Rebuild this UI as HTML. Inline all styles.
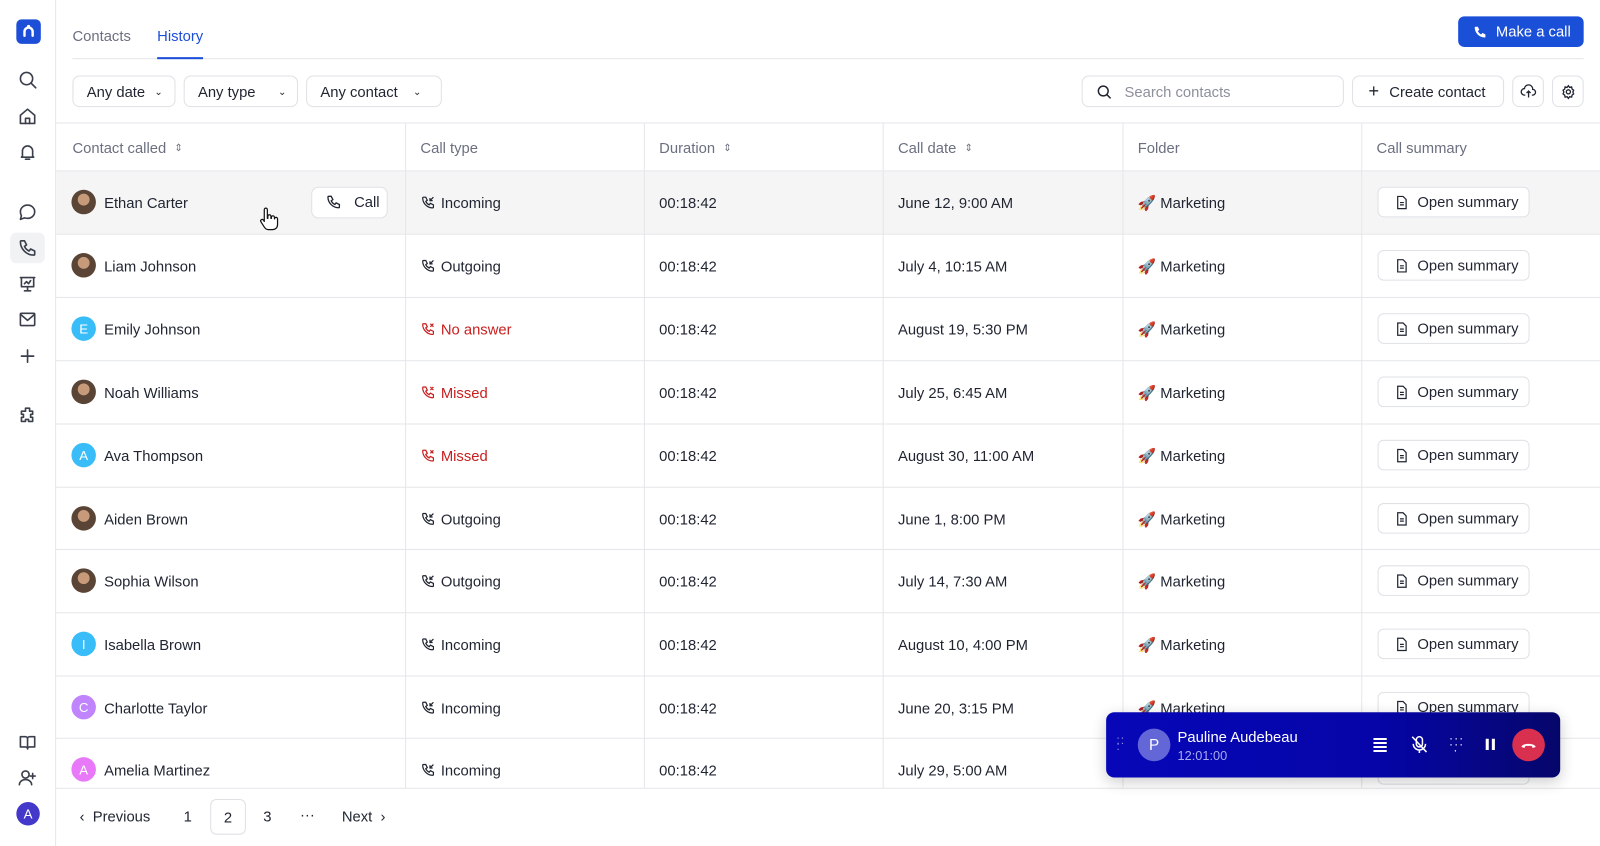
<!DOCTYPE html>
<html><head><meta charset="utf-8"><style>
*{box-sizing:border-box;margin:0;padding:0}
html,body{width:1600px;height:846px;overflow:hidden;background:#fff}
#w{position:absolute;left:0;top:0;width:1568px;height:829px;transform:scale(1.020408);transform-origin:0 0;font-family:"Liberation Sans",sans-serif;color:#1f2430;font-size:14.5px}
.a{position:absolute}
.sb{left:0;top:0;width:55px;height:829px;border-right:1px solid #e6e7ea}
.ic{position:absolute;left:17px;width:20px;height:20px}
.ic svg{width:20px;height:20px;stroke:#3a3f4b;fill:none;stroke-width:1.6;stroke-linecap:round;stroke-linejoin:round}
.btn{position:absolute;border:1px solid #dfe1e5;border-radius:7px;background:#fff;display:flex;align-items:center;font-size:14.5px;color:#1f2430;padding-top:2px}
.hl{position:absolute;left:55px;width:1513px;height:1px;background:#e5e6e9}
.vl{position:absolute;top:120px;width:1px;height:652px;background:#e5e6e9}
.row{position:absolute;left:55px;width:1513px;height:62px}
.c{position:absolute;top:0;height:62px;display:flex;align-items:center;padding-top:3px}
.av{width:24px;height:24px;border-radius:50%;color:#fff;font-size:13px;display:flex;align-items:center;justify-content:center;margin-right:8px;margin-top:-3px}
.ph{background:radial-gradient(circle at 50% 40%,#c79a7a 0 30%,#5a4436 32% 100%)}
.ct svg{width:15px;height:15px;stroke:#1f2430;fill:none;stroke-width:1.6;margin-right:5px;margin-top:-3px}
.red{color:#c81e1e}.red svg{stroke:#c81e1e}
.os{position:absolute;left:1295px;top:16px;width:149px;height:30px;border:1px solid #dfe1e5;border-radius:6px;background:#fff;display:flex;align-items:center;padding-left:15px;padding-top:2px}
.th{position:absolute;top:120px;height:47px;display:flex;align-items:center;color:#6b7080;padding-top:4px}
</style></head><body><div id="w">
<div class="a sb">
 <div class="a" style="left:16px;top:19px;width:24px;height:24px;border-radius:5px;background:#1d4ed8"><svg width="24" height="24"><path d="M8 16v-4a4 4 0 0 1 8 0v4" stroke="#fff" stroke-width="2.4" fill="none" stroke-linecap="round"/><circle cx="12" cy="7" r="1.6" fill="#fff"/></svg></div>
 <div class="ic" style="top:68px"><svg viewBox="0 0 20 20"><circle cx="9" cy="9" r="6"/><path d="M13.5 13.5L18 18"/></svg></div>
 <div class="ic" style="top:104px"><svg viewBox="0 0 20 20"><path d="M3 9l7-6 7 6v8H3z"/><path d="M8 17v-5h4v5"/></svg></div>
 <div class="ic" style="top:139px"><svg viewBox="0 0 20 20"><path d="M5 14V9a5 5 0 0 1 10 0v5l1 1H4z"/><path d="M8 17h4"/></svg></div>
 <div class="ic" style="top:198px"><svg viewBox="0 0 20 20"><path d="M10 3c4 0 7 3 7 6.5S14 16 10 16c-1 0-2-.2-3-.5L3 17l1-3.5C3.3 12.3 3 11 3 9.5 3 6 6 3 10 3z"/></svg></div>
 <div class="a" style="left:10px;top:228px;width:34px;height:30px;border-radius:6px;background:#f1f2f4"></div>
 <div class="ic" style="top:233px"><svg viewBox="0 0 20 20"><path d="M4 3h3l2 4-2 1.5a9 9 0 0 0 4.5 4.5L13 11l4 2v3a1 1 0 0 1-1 1C9 17 3 11 3 4a1 1 0 0 1 1-1z"/></svg></div>
 <div class="ic" style="top:268px"><svg viewBox="0 0 20 20"><path d="M3 4h14M4 4v9h12V4M10 13v4M7 17h6M7 10l2-2 2 2 2-3"/></svg></div>
 <div class="ic" style="top:303px"><svg viewBox="0 0 20 20"><rect x="3" y="4" width="14" height="12" rx="1"/><path d="M3 5l7 6 7-6"/></svg></div>
 <div class="ic" style="top:339px"><svg viewBox="0 0 20 20"><path d="M10 4v12M4 10h12"/></svg></div>
 <div class="ic" style="top:397px"><svg viewBox="0 0 20 20"><path d="M8 3h4v3h3v3h-2v3h2v4h-4v-2H8v2H4v-4h2V9H4V6h4z"/></svg></div>
 <div class="ic" style="top:717px"><svg viewBox="0 0 20 20"><path d="M3 5h5a2 2 0 0 1 2 2v10a2 2 0 0 0-2-2H3zM17 5h-5a2 2 0 0 0-2 2v10a2 2 0 0 1 2-2h5z"/></svg></div>
 <div class="ic" style="top:752px"><svg viewBox="0 0 20 20"><circle cx="8" cy="7" r="3.5"/><path d="M2 17c0-3 3-5 6-5s6 2 6 5M15 6v5M12.5 8.5h5"/></svg></div>
 <div class="a av" style="left:16px;top:789px;background:#4338ca;width:23px;height:23px">A</div>
</div>

<div class="a" style="left:71px;top:28px;color:#6b7080">Contacts</div>
<div class="a" style="left:154px;top:28px;color:#1d4ed8">History</div>
<div class="a" style="left:71px;top:57px;width:1481px;height:1px;background:#e5e6e9"></div>
<div class="a" style="left:154px;top:56px;width:45px;height:2px;background:#1d4ed8"></div>
<div class="a" style="left:1429px;top:16px;width:123px;height:30px;border-radius:6px;background:#1a4fd8;color:#fff;display:flex;align-items:center;padding-left:14px;padding-top:2px"><svg width="15" height="15" viewBox="0 0 20 20" style="margin-right:8px;margin-top:-2px"><path d="M4 3h3l2 4-2 1.5a9 9 0 0 0 4.5 4.5L13 11l4 2v3a1 1 0 0 1-1 1C9 17 3 11 3 4a1 1 0 0 1 1-1z" fill="#fff"/></svg>Make a call</div>

<div class="btn" style="left:71px;top:74px;width:101px;height:31px;padding-left:13px">Any date<span style="margin-left:9px;font-size:10px">&#8964;</span></div>
<div class="btn" style="left:180px;top:74px;width:112px;height:31px;padding-left:13px">Any type<span style="margin-left:22px;font-size:10px">&#8964;</span></div>
<div class="btn" style="left:300px;top:74px;width:133px;height:31px;padding-left:13px">Any contact<span style="margin-left:15px;font-size:10px">&#8964;</span></div>
<div class="btn" style="left:1060px;top:74px;width:257px;height:31px;padding-left:13px;color:#8b909c"><svg width="16" height="16" viewBox="0 0 20 20" style="margin-right:12px;margin-top:-2px"><circle cx="9" cy="9" r="6" stroke="#1f2430" stroke-width="1.8" fill="none"/><path d="M13.5 13.5L18 18" stroke="#1f2430" stroke-width="1.8"/></svg>Search contacts</div>
<div class="btn" style="left:1325px;top:74px;width:149px;height:31px;padding-left:15px"><span style="font-size:18px;margin-right:10px;margin-top:-3px">+</span>Create contact</div>
<div class="btn" style="left:1482px;top:74px;width:31px;height:31px;justify-content:center;padding-top:0"><svg width="16" height="16" viewBox="0 0 20 20" fill="none" stroke="#1f2430" stroke-width="1.6"><path d="M6 14H5a4 4 0 0 1 0-8 5 5 0 0 1 10 1 3.5 3.5 0 0 1 0 7h-1M10 9v8M7.5 11.5L10 9l2.5 2.5"/></svg></div>
<div class="btn" style="left:1521px;top:74px;width:31px;height:31px;justify-content:center;padding-top:0"><svg width="16" height="16" viewBox="0 0 20 20" fill="none" stroke="#1f2430" stroke-width="1.6"><circle cx="10" cy="10" r="2.5"/><path d="M10 2.5l1.5 2 2.5-.5.5 2.5 2 1.5-1 2.2 1 2.3-2 1.5-.5 2.5-2.5-.5-1.5 2-1.5-2-2.5.5-.5-2.5-2-1.5 1-2.3-1-2.2 2-1.5.5-2.5 2.5.5z"/></svg></div>

<div class="hl" style="top:120px"></div>
<div class="a" style="left:55px;top:168px;width:1513px;height:61px;background:#f5f5f6"></div>
<div class="th" style="left:71px">Contact called <span style="margin-left:8px;font-size:10px">&#8661;</span></div>
<div class="th" style="left:412px">Call type</div>
<div class="th" style="left:646px">Duration <span style="margin-left:8px;font-size:10px">&#8661;</span></div>
<div class="th" style="left:880px">Call date <span style="margin-left:8px;font-size:10px">&#8661;</span></div>
<div class="th" style="left:1115px">Folder</div>
<div class="th" style="left:1349px">Call summary</div>
<div class="hl" style="top:167px"></div><div class="hl" style="top:229px"></div><div class="hl" style="top:291px"></div><div class="hl" style="top:353px"></div><div class="hl" style="top:415px"></div><div class="hl" style="top:477px"></div><div class="hl" style="top:538px"></div><div class="hl" style="top:600px"></div><div class="hl" style="top:662px"></div><div class="hl" style="top:723px"></div><div class="hl" style="top:772px"></div>
<div class="vl" style="left:397px"></div><div class="vl" style="left:631px"></div><div class="vl" style="left:865px"></div><div class="vl" style="left:1100px"></div><div class="vl" style="left:1334px"></div>

<svg width="0" height="0" style="position:absolute"><defs>
<symbol id="in" viewBox="0 0 20 20"><path d="M4 3h3l2 4-2 1.5a9 9 0 0 0 4.5 4.5L13 11l4 2v3a1 1 0 0 1-1 1C9 17 3 11 3 4a1 1 0 0 1 1-1zM17 3l-4.5 4.5M12.5 4v3.5H16"/></symbol>
<symbol id="mi" viewBox="0 0 20 20"><path d="M4 3h3l2 4-2 1.5a9 9 0 0 0 4.5 4.5L13 11l4 2v3a1 1 0 0 1-1 1C9 17 3 11 3 4a1 1 0 0 1 1-1zM13 3l4 4M17 3l-4 4"/></symbol>
<symbol id="doc" viewBox="0 0 20 20"><path d="M5 2h7l4 4v12H5zM8 10h5M8 13h5"/></symbol>
</defs></svg>

<div class="row" style="top:167px"><div class="c" style="left:15px"><div class="av ph"></div>Ethan Carter</div><div class="c" style="left:250px;padding-top:0"><div style="width:75px;height:31px;border:1px solid #dfe1e5;border-radius:7px;background:#fff;display:flex;align-items:center;padding-left:13px;padding-top:2px"><svg width="16" height="16" viewBox="0 0 20 20" fill="none" stroke="#1f2430" stroke-width="1.6" style="margin-right:12px;margin-top:-2px"><path d="M4 3h3l2 4-2 1.5a9 9 0 0 0 4.5 4.5L13 11l4 2v3a1 1 0 0 1-1 1C9 17 3 11 3 4a1 1 0 0 1 1-1z"/></svg>Call</div></div><div class="c ct" style="left:357px"><svg><use href="#in"/></svg>Incoming</div><div class="c" style="left:591px">00:18:42</div><div class="c" style="left:825px">June 12, 9:00 AM</div><div class="c" style="left:1060px">🚀&nbsp;Marketing</div><div class="os"><svg width="15" height="15" fill="none" stroke="#1f2430" stroke-width="1.6" style="margin-right:8px;margin-top:-2px"><use href="#doc"/></svg>Open summary</div></div>
<svg class="a" style="left:253px;top:203px" width="20" height="24" viewBox="0 0 20 24"><path d="M6 2.5a1.5 1.5 0 0 1 3 0V11h.5V9a1.5 1.5 0 0 1 3 0v2h.5v-1a1.5 1.5 0 0 1 3 0v1.5a1.5 1.5 0 0 1 3 0V17c0 3-2 5-5 5H10c-2 0-3-1-4-2.5L2.5 14a1.5 1.5 0 0 1 2.5-1.5L6 14z" fill="#fff" stroke="#111" stroke-width="1.2" stroke-linejoin="round"/></svg>
<div class="row" style="top:229px"><div class="c" style="left:15px"><div class="av ph"></div>Liam Johnson</div><div class="c ct" style="left:357px"><svg><use href="#in"/></svg>Outgoing</div><div class="c" style="left:591px">00:18:42</div><div class="c" style="left:825px">July 4, 10:15 AM</div><div class="c" style="left:1060px">🚀&nbsp;Marketing</div><div class="os"><svg width="15" height="15" fill="none" stroke="#1f2430" stroke-width="1.6" style="margin-right:8px;margin-top:-2px"><use href="#doc"/></svg>Open summary</div></div>
<div class="row" style="top:291px"><div class="c" style="left:15px"><div class="av" style="background:#38bdf8">E</div>Emily Johnson</div><div class="c ct red" style="left:357px"><svg><use href="#mi"/></svg>No answer</div><div class="c" style="left:591px">00:18:42</div><div class="c" style="left:825px">August 19, 5:30 PM</div><div class="c" style="left:1060px">🚀&nbsp;Marketing</div><div class="os"><svg width="15" height="15" fill="none" stroke="#1f2430" stroke-width="1.6" style="margin-right:8px;margin-top:-2px"><use href="#doc"/></svg>Open summary</div></div>
<div class="row" style="top:353px"><div class="c" style="left:15px"><div class="av ph"></div>Noah Williams</div><div class="c ct red" style="left:357px"><svg><use href="#mi"/></svg>Missed</div><div class="c" style="left:591px">00:18:42</div><div class="c" style="left:825px">July 25, 6:45 AM</div><div class="c" style="left:1060px">🚀&nbsp;Marketing</div><div class="os"><svg width="15" height="15" fill="none" stroke="#1f2430" stroke-width="1.6" style="margin-right:8px;margin-top:-2px"><use href="#doc"/></svg>Open summary</div></div>
<div class="row" style="top:415px"><div class="c" style="left:15px"><div class="av" style="background:#38bdf8">A</div>Ava Thompson</div><div class="c ct red" style="left:357px"><svg><use href="#mi"/></svg>Missed</div><div class="c" style="left:591px">00:18:42</div><div class="c" style="left:825px">August 30, 11:00 AM</div><div class="c" style="left:1060px">🚀&nbsp;Marketing</div><div class="os"><svg width="15" height="15" fill="none" stroke="#1f2430" stroke-width="1.6" style="margin-right:8px;margin-top:-2px"><use href="#doc"/></svg>Open summary</div></div>
<div class="row" style="top:477px"><div class="c" style="left:15px"><div class="av ph"></div>Aiden Brown</div><div class="c ct" style="left:357px"><svg><use href="#in"/></svg>Outgoing</div><div class="c" style="left:591px">00:18:42</div><div class="c" style="left:825px">June 1, 8:00 PM</div><div class="c" style="left:1060px">🚀&nbsp;Marketing</div><div class="os"><svg width="15" height="15" fill="none" stroke="#1f2430" stroke-width="1.6" style="margin-right:8px;margin-top:-2px"><use href="#doc"/></svg>Open summary</div></div>
<div class="row" style="top:538px"><div class="c" style="left:15px"><div class="av ph"></div>Sophia Wilson</div><div class="c ct" style="left:357px"><svg><use href="#in"/></svg>Outgoing</div><div class="c" style="left:591px">00:18:42</div><div class="c" style="left:825px">July 14, 7:30 AM</div><div class="c" style="left:1060px">🚀&nbsp;Marketing</div><div class="os"><svg width="15" height="15" fill="none" stroke="#1f2430" stroke-width="1.6" style="margin-right:8px;margin-top:-2px"><use href="#doc"/></svg>Open summary</div></div>
<div class="row" style="top:600px"><div class="c" style="left:15px"><div class="av" style="background:#38bdf8">I</div>Isabella Brown</div><div class="c ct" style="left:357px"><svg><use href="#in"/></svg>Incoming</div><div class="c" style="left:591px">00:18:42</div><div class="c" style="left:825px">August 10, 4:00 PM</div><div class="c" style="left:1060px">🚀&nbsp;Marketing</div><div class="os"><svg width="15" height="15" fill="none" stroke="#1f2430" stroke-width="1.6" style="margin-right:8px;margin-top:-2px"><use href="#doc"/></svg>Open summary</div></div>
<div class="row" style="top:662px"><div class="c" style="left:15px"><div class="av" style="background:#c084fc">C</div>Charlotte Taylor</div><div class="c ct" style="left:357px"><svg><use href="#in"/></svg>Incoming</div><div class="c" style="left:591px">00:18:42</div><div class="c" style="left:825px">June 20, 3:15 PM</div><div class="c" style="left:1060px">🚀&nbsp;Marketing</div><div class="os"><svg width="15" height="15" fill="none" stroke="#1f2430" stroke-width="1.6" style="margin-right:8px;margin-top:-2px"><use href="#doc"/></svg>Open summary</div></div>
<div class="row" style="top:723px"><div class="c" style="left:15px"><div class="av" style="background:#e879f9">A</div>Amelia Martinez</div><div class="c ct" style="left:357px"><svg><use href="#in"/></svg>Incoming</div><div class="c" style="left:591px">00:18:42</div><div class="c" style="left:825px">July 29, 5:00 AM</div><div class="os"></div></div>

<div class="a" style="left:78px;top:793px">&#8249;&nbsp; Previous</div>
<div class="a" style="left:180px;top:793px">1</div>
<div class="a" style="left:206px;top:783px;width:35px;height:35px;border:1px solid #dfe1e5;border-radius:6px;display:flex;align-items:center;justify-content:center;padding-top:2px">2</div>
<div class="a" style="left:258px;top:793px">3</div>
<div class="a" style="left:294px;top:791px">···</div>
<div class="a" style="left:335px;top:793px">Next &nbsp;&#8250;</div>

<div class="a" style="left:1084px;top:698px;width:445px;height:64px;border-radius:8px;background:linear-gradient(90deg,#0707b8,#0505a8 60%,#06066a);box-shadow:0 4px 14px rgba(0,0,0,.2);color:#fff">
 <div class="a" style="left:10px;top:24px;font-size:12px;color:#8f90e0;letter-spacing:1px;line-height:6px">::<br>:</div>
 <div class="a" style="left:31px;top:16px;width:32px;height:32px;border-radius:50%;background:#6366d6;display:flex;align-items:center;justify-content:center;font-size:15px">P</div>
 <div class="a" style="left:70px;top:17px;font-size:14.5px">Pauline Audebeau</div>
 <div class="a" style="left:70px;top:36px;font-size:12.5px;color:#a8aaf0">12:01:00</div>
 <div class="a" style="left:262px;top:25px;width:13px;height:14px;background:repeating-linear-gradient(#fff 0 2px,transparent 2px 4px)"></div>
 <svg class="a" style="left:299px;top:23px" width="16" height="18" viewBox="0 0 16 18" fill="none" stroke="#fff" stroke-width="1.5"><rect x="5" y="1" width="6" height="10" rx="3"/><path d="M2 8a6 6 0 0 0 12 0M8 14v3M1 1l14 15"/></svg>
 <div class="a" style="left:336px;top:22px;font-size:12px;line-height:6px;letter-spacing:1px">···<br>···<br>&nbsp;·</div>
 <div class="a" style="left:372px;top:26px;width:3px;height:11px;background:#fff;box-shadow:6px 0 #fff"></div>
 <div class="a" style="left:398px;top:16px;width:32px;height:32px;border-radius:50%;background:#d9304f"><svg width="32" height="32"><path d="M9 18c1-4 13-4 14 0l-3 1-1-2h-6l-1 2z" fill="#fff"/></svg></div>
</div>
</div></body></html>
